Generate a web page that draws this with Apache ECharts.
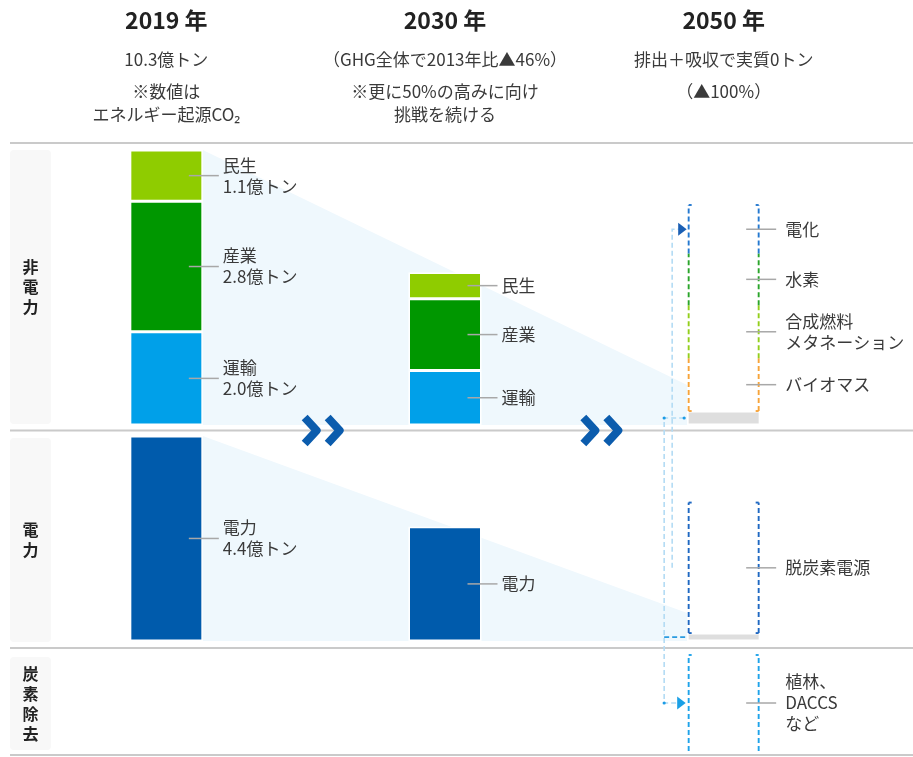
<!DOCTYPE html>
<html>
<head>
<meta charset="utf-8">
<script src="https://cdn.jsdelivr.net/npm/echarts@6/dist/echarts.min.js"></script>
<style>
html, body { margin: 0; padding: 0; background: #ffffff; }
#chart { width: 913px; height: 757px; }
</style>
</head>
<body>
<div id="chart"></div>
<script>
// ---- data (億トン) ----
const categories = ['2019年', '2030年', '2050年'];
const yearTitles = ['2019 年', '2030 年', '2050 年'];
const headlines = ['10.3億トン', '（GHG全体で2013年比▲46%）', '排出＋吸収で実質0トン'];
const notes = ['※数値は\nエネルギー起源CO₂', '※更に50%の高みに向け\n挑戦を続ける', '（▲100%）'];
const panelNames = ['非\n電\n力', '電\n力', '炭\n素\n除\n去'];

const sectorNames = ['運輸', '産業', '民生'];
const transport = [2.0, 1.17, null];
const industry = [2.8, 1.54, null];
const household = [1.1, 0.56, null];
const powerName = '電力';
const power = [4.4, 2.45, null];
const residualNonPower = [null, null, 0.3];
const residualPower = [null, null, 0.17];

const measureNames = ['バイオマス', '合成燃料\nメタネーション', '水素', '電化'];
const measureValues = [1.13, 1.14, 1.11, 1.04];
const decarbonName = '脱炭素電源';
const decarbonValue = 2.8;
const removalName = '植林、\nDACCS\nなど';
const removalValue = 2.06;
const shadeEnd = [0.86, 0.6];

// ---- styling ----
const FONT = '"Noto Sans CJK JP", "Noto Sans", sans-serif';
const TEXT_SIZE = 17;
const COLORS = {
  transport: '#00a0e9', industry: '#009700', household: '#8fcc00', power: '#005bac',
  residual: '#dedede', shade: '#eff8fd', tick: '#a8a8a8', text: '#3a3a3a',
  measures: ['#f7a43a', '#93cf1c', '#2aa52a', '#2479d0'],
  decarbon: '#1f68c2', removal: '#1fa3ea', pale: '#b3dbf4', chevron: '#0b5cad', divider: '#cacaca'
};
const BAR_W = 73;
const nonPowerTotal2019 = transport[0] + industry[0] + household[0];
const PX = 275 / nonPowerTotal2019;           // pixels per 億トン
const GRID_LEFT = 27, GRID_WIDTH = 836;
const g0Top = 150, g0H = nonPowerTotal2019 * PX;
const g1Bottom = 641, g1H = power[0] * PX, g1Top = g1Bottom - g1H;
const g2Top = 655, g2H = removalValue * PX;

const chart = echarts.init(document.getElementById('chart'));

function xAxis(i) {
  return { gridIndex: i, type: 'category', data: categories, show: false };
}
function yAxis(i, max) {
  return { gridIndex: i, type: 'value', min: 0, max: max, show: false };
}

// light trapezoid from the 2019 bar towards 2050
function shadeSeries(gi, top, end) {
  return {
    type: 'custom', xAxisIndex: gi, yAxisIndex: gi, z: 0, silent: true,
    data: [[0, top, 2, end]], encode: { x: [0, 2], y: [1, 3] },
    renderItem(params, api) {
      const a = api.coord([api.value(0), api.value(1)]);
      const ab = api.coord([api.value(0), 0]);
      const b = api.coord([api.value(2), api.value(3)]);
      const bb = api.coord([api.value(2), 0]);
      const h = BAR_W / 2;
      return {
        type: 'polygon',
        shape: { points: [[a[0] + h, a[1]], [b[0] - h, b[1]], [bb[0] - h, bb[1]], [ab[0] + h, ab[1]]] },
        style: { fill: COLORS.shade }
      };
    }
  };
}

// dashed side lines that outline the 2050 measures
function dashSeries(gi, segs) {
  return {
    type: 'custom', xAxisIndex: gi, yAxisIndex: gi, z: 4, silent: true,
    data: segs.map(s => [s.cat, s.from, s.to]), encode: { x: 0, y: [1, 2] },
    renderItem(params, api) {
      const s = segs[params.dataIndex];
      const a = api.coord([api.value(0), api.value(1)]);
      const b = api.coord([api.value(0), api.value(2)]);
      const xl = a[0] - BAR_W / 2 + 1.5, xr = a[0] + BAR_W / 2 - 1.5;
      const st = { stroke: s.color, lineWidth: 1.9, lineDash: [5, 3] };
      const cap = { stroke: s.color, lineWidth: 1.9 };
      const ch = [
        { type: 'line', shape: { x1: xl, y1: a[1], x2: xl, y2: b[1] }, style: st },
        { type: 'line', shape: { x1: xr, y1: a[1], x2: xr, y2: b[1] }, style: st }
      ];
      if (s.capTop) {
        ch.push({ type: 'line', shape: { x1: xl, y1: b[1], x2: xl + 3, y2: b[1] }, style: cap });
        ch.push({ type: 'line', shape: { x1: xr - 3, y1: b[1], x2: xr, y2: b[1] }, style: cap });
      }
      if (s.capBottom) {
        ch.push({ type: 'line', shape: { x1: xl, y1: a[1], x2: xl + 3, y2: a[1] }, style: cap });
        ch.push({ type: 'line', shape: { x1: xr - 3, y1: a[1], x2: xr, y2: a[1] }, style: cap });
      }
      return { type: 'group', children: ch };
    }
  };
}

// short leader line plus text to the right of a mark
function annotSeries(gi, items) {
  return {
    type: 'custom', xAxisIndex: gi, yAxisIndex: gi, z: 6, silent: true,
    data: items.map(it => [it.cat, it.y]), encode: { x: 0, y: 1 },
    renderItem(params, api) {
      const it = items[params.dataIndex];
      const p = api.coord([api.value(0), api.value(1)]);
      const edge = p[0] + BAR_W / 2;
      return {
        type: 'group', children: [
          { type: 'line', shape: { x1: edge - 14, y1: p[1], x2: edge + 16, y2: p[1] }, style: { stroke: COLORS.tick, lineWidth: 1.5 } },
          { type: 'text', x: edge + it.gap, y: p[1],
            style: { text: it.text, fill: COLORS.text, font: TEXT_SIZE + 'px ' + FONT, align: 'left', verticalAlign: 'middle', lineHeight: 21 } }
        ]
      };
    }
  };
}

// annotations for the non-power stacks
const sectorArrays = [transport, industry, household];
const nonPowerNotes = [];
for (let c = 0; c < 2; c++) {
  let base = 0;
  sectorArrays.forEach((arr, k) => {
    const v = arr[c];
    nonPowerNotes.push({ cat: c, y: base + v / 2, gap: 20,
      text: c === 0 ? sectorNames[k] + '\n' + v.toFixed(1) + '億トン' : sectorNames[k] });
    base += v;
  });
}
// 2050 measures stacked above the residual
const measureSegs = [];
let mBase = residualNonPower[2];
measureValues.forEach((v, k) => {
  measureSegs.push({ cat: 2, from: mBase, to: mBase + v, color: COLORS.measures[k],
    capBottom: k === 0, capTop: k === measureValues.length - 1 });
  nonPowerNotes.push({ cat: 2, y: mBase + v / 2, gap: 25, text: measureNames[k] });
  mBase += v;
});

const powerNotes = [
  { cat: 0, y: power[0] / 2, gap: 20, text: powerName + '\n' + power[0].toFixed(1) + '億トン' },
  { cat: 1, y: power[1] / 2, gap: 20, text: powerName },
  { cat: 2, y: residualPower[2] + decarbonValue / 2, gap: 25, text: decarbonName }
];
const decarbonSegs = [{ cat: 2, from: residualPower[2], to: residualPower[2] + decarbonValue,
  color: COLORS.decarbon, capTop: true, capBottom: true }];
const removalSegs = [{ cat: 2, from: 0, to: removalValue, color: COLORS.removal, capTop: true }];
const removalNotes = [{ cat: 2, y: removalValue / 2, gap: 25, text: removalName }];

function bar(gi, stack, name, data, color) {
  return {
    type: 'bar', name, xAxisIndex: gi, yAxisIndex: gi, stack, data, barWidth: BAR_W, z: 2,
    itemStyle: { color, borderColor: '#ffffff', borderWidth: 1.5 }, silent: true
  };
}

chart.setOption({
  animation: false,
  backgroundColor: '#ffffff',
  grid: [
    { left: GRID_LEFT, width: GRID_WIDTH, top: g0Top, height: g0H },
    { left: GRID_LEFT, width: GRID_WIDTH, top: g1Top, height: g1H },
    { left: GRID_LEFT, width: GRID_WIDTH, top: g2Top, height: g2H }
  ],
  xAxis: [xAxis(0), xAxis(1), xAxis(2)],
  yAxis: [yAxis(0, nonPowerTotal2019), yAxis(1, power[0]), yAxis(2, removalValue)],
  series: [
    shadeSeries(0, nonPowerTotal2019, shadeEnd[0]),
    shadeSeries(1, power[0], shadeEnd[1]),
    bar(0, 'np', sectorNames[0], transport, COLORS.transport),
    bar(0, 'np', sectorNames[1], industry, COLORS.industry),
    bar(0, 'np', sectorNames[2], household, COLORS.household),
    bar(0, 'np', '残余', residualNonPower, COLORS.residual),
    bar(1, 'p', powerName, power, COLORS.power),
    bar(1, 'p', '残余', residualPower, COLORS.residual),
    dashSeries(0, measureSegs),
    dashSeries(1, decarbonSegs),
    dashSeries(2, removalSegs),
    annotSeries(0, nonPowerNotes),
    annotSeries(1, powerNotes),
    annotSeries(2, removalNotes)
  ]
});

// ---- frame, headers, arrows and connectors placed from the axes ----
const cx = categories.map((c, i) => chart.convertToPixel({ xAxisIndex: 0 }, i));
const py = (gi, v) => chart.convertToPixel({ yAxisIndex: gi }, v);
const g0Bottom = g0Top + g0H, g2Bottom = g2Top + g2H;
const dividerYs = [g0Top - 7, (g0Bottom + g1Top) / 2, (g1Bottom + g2Top) / 2, 755];
const panelRanges = [[g0Top, g0Bottom - 1], [g1Top + 2, g1Bottom + 1], [g2Top + 2, g2Bottom - 1]];

const graphic = [];
dividerYs.forEach(y => graphic.push({
  type: 'line', shape: { x1: 10, y1: y, x2: 913, y2: y }, style: { stroke: COLORS.divider, lineWidth: 2 }, z: 1
}));
panelRanges.forEach((r, i) => {
  graphic.push({ type: 'rect', shape: { x: 10, y: r[0], width: 41, height: r[1] - r[0], r: 4 }, style: { fill: '#f8f8f8' }, z: 1 });
  graphic.push({ type: 'text', x: 30.5, y: (r[0] + r[1]) / 2, z: 2,
    style: { text: panelNames[i], font: 'bold 16px ' + FONT, fill: '#222', align: 'center', verticalAlign: 'middle', lineHeight: 20 } });
});
cx.forEach((x, i) => {
  graphic.push({ type: 'text', x: x, y: 20, style: { text: yearTitles[i], font: 'bold 23px ' + FONT, fill: '#222', align: 'center', verticalAlign: 'middle' } });
  graphic.push({ type: 'text', x: x, y: 60, style: { text: headlines[i], font: TEXT_SIZE + 'px ' + FONT, fill: COLORS.text, align: 'center', verticalAlign: 'middle' } });
  graphic.push({ type: 'text', x: x, y: 80.5, style: { text: notes[i], font: TEXT_SIZE + 'px ' + FONT, fill: COLORS.text, align: 'center', verticalAlign: 'top', lineHeight: 23 } });
});
// double chevrons between the years
[0, 1].forEach(i => {
  const x0 = (cx[i] + cx[i + 1]) / 2 - 4, y = dividerYs[1];
  [0, 23].forEach(dx => graphic.push({
    type: 'polyline', z: 3,
    shape: { points: [[x0 + dx + 3, y - 13], [x0 + dx + 15, y], [x0 + dx + 3, y + 13]] },
    style: { stroke: COLORS.chevron, lineWidth: 8, fill: null, lineJoin: 'round' }
  }));
});
// connectors on the 2050 column
const L = cx[2] - BAR_W / 2;
const yResNP = py(0, residualNonPower[2] / 2);
const yResP = py(1, residualPower[2] / 2);
const yElec = py(0, residualNonPower[2] + measureValues.slice(0, 3).reduce((a, b) => a + b, 0) + measureValues[3] / 2);
const yDecarb = py(1, residualPower[2] + decarbonValue / 2);
const yRemoval = py(2, removalValue / 2);
const paleDash = { stroke: COLORS.pale, lineWidth: 1.6, lineDash: [5, 3], fill: null };
graphic.push({ type: 'polyline', z: 3, shape: { points: [[L - 3, yResNP], [L - 23, yResNP], [L - 23, yRemoval], [L - 9, yRemoval]] }, style: paleDash });
graphic.push({ type: 'polyline', z: 3, shape: { points: [[L - 15, yDecarb], [L - 15, yElec], [L - 8, yElec]] }, style: paleDash });
graphic.push({ type: 'line', z: 3, shape: { x1: L - 23, y1: yResP, x2: L - 1, y2: yResP }, style: { stroke: '#2a9be0', lineWidth: 1.7, lineDash: [5, 3] } });
graphic.push({ type: 'polygon', z: 4, shape: { points: [[L - 9, yElec - 6.5], [L - 0.5, yElec], [L - 9, yElec + 6.5]] }, style: { fill: '#1a5fb4' } });
graphic.push({ type: 'polygon', z: 4, shape: { points: [[L - 10, yRemoval - 6.5], [L - 1.5, yRemoval], [L - 10, yRemoval + 6.5]] }, style: { fill: '#1aa0e6' } });
[[L - 23, yResNP], [L - 3, yResNP], [L - 23, yRemoval]].forEach(p => graphic.push({
  type: 'circle', z: 4, shape: { cx: p[0], cy: p[1], r: 1.6 }, style: { fill: '#1a9be6' }
}));

chart.setOption({ graphic: graphic });
</script>
</body>
</html>
